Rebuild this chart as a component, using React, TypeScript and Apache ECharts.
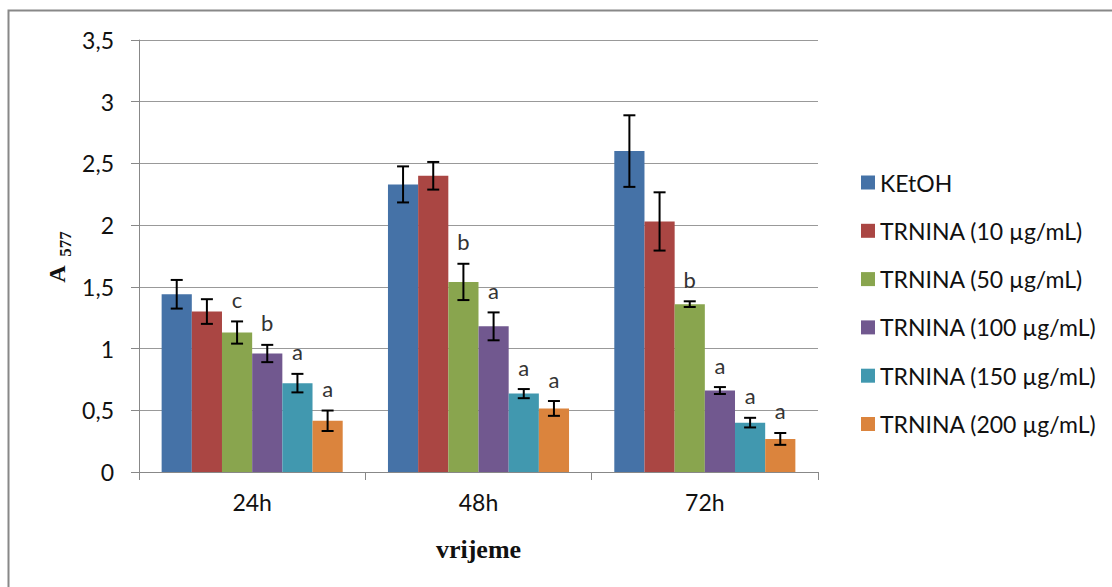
import React, { useEffect, useRef } from "react";
import * as echarts from "echarts";

const categories = ["24h", "48h", "72h"];
const seriesNames = [
  "KEtOH",
  "TRNINA (10 µg/mL)",
  "TRNINA (50 µg/mL)",
  "TRNINA (100 µg/mL)",
  "TRNINA (150 µg/mL)",
  "TRNINA (200 µg/mL)",
];
const colors = ["#4572A7", "#AA4643", "#89A54E", "#71588F", "#4198AF", "#DB843D"];

const kEtOH = [1.44, 2.33, 2.6];
const trnina10 = [1.3, 2.4, 2.03];
const trnina50 = [1.13, 1.54, 1.36];
const trnina100 = [0.96, 1.18, 0.66];
const trnina150 = [0.72, 0.635, 0.4];
const trnina200 = [0.415, 0.515, 0.268];

const errKEtOH = [0.116, 0.146, 0.29];
const err10 = [0.1, 0.112, 0.236];
const err50 = [0.09, 0.147, 0.023];
const err100 = [0.07, 0.113, 0.028];
const err150 = [0.075, 0.037, 0.039];
const err200 = [0.083, 0.06, 0.048];

const lettersKEtOH = ["", "", ""];
const letters10 = ["", "", ""];
const letters50 = ["c", "b", "b"];
const letters100 = ["b", "a", "a"];
const letters150 = ["a", "a", "a"];
const letters200 = ["a", "a", "a"];

const yTicks = ["0", "0,5", "1", "1,5", "2", "2,5", "3", "3,5"];

const values = [kEtOH, trnina10, trnina50, trnina100, trnina150, trnina200];
const errors = [errKEtOH, err10, err50, err100, err150, err200];
const letters = [lettersKEtOH, letters10, letters50, letters100, letters150, letters200];

const FONT = "Lato";

export default function App() {
  const ref = useRef<HTMLDivElement>(null);
  useEffect(() => {
    if (!ref.current) return;
    const chart = echarts.init(ref.current, null, { renderer: "svg" });
    const n = seriesNames.length;
    const barSeries = seriesNames.map((name, i) => ({
      name,
      type: "bar",
      data: values[i],
      barGap: "0%",
      barCategoryGap: "20%",
      itemStyle: { color: colors[i] },
      z: 2,
    }));
    const errSeries = seriesNames.map((name, i) => ({
      name: "err_" + i,
      type: "custom",
      z: 5,
      data: values[i].map((v, k) => [k, v, errors[i][k]]),
      renderItem: (params: any, api: any) => {
        const cat = api.value(0);
        const v = api.value(1);
        const e = api.value(2);
        const bandW = api.size([1, 0])[0];
        const barW = (bandW * 0.8) / n;
        const cx = api.coord([cat, 0])[0] + (i - (n - 1) / 2) * barW;
        const yTop = api.coord([cat, v + e])[1];
        const yBot = api.coord([cat, v - e])[1];
        const cap = 6;
        const st = { stroke: "#000", lineWidth: 2 };
        const children: any[] = [
          { type: "line", shape: { x1: cx, y1: yTop, x2: cx, y2: yBot }, style: st },
          { type: "line", shape: { x1: cx - cap, y1: yTop, x2: cx + cap, y2: yTop }, style: st },
          { type: "line", shape: { x1: cx - cap, y1: yBot, x2: cx + cap, y2: yBot }, style: st },
        ];
        const letter = letters[i][params.dataIndex];
        if (letter) {
          children.push({
            type: "text",
            x: cx,
            y: yTop - 22,
            style: {
              text: letter,
              fill: "#333",
              font: `22px ${FONT}`,
              align: "center",
              verticalAlign: "middle",
            },
          });
        }
        return { type: "group", children };
      },
    }));

    chart.setOption({
      animation: false,
      grid: { left: 139, right: 294, top: 40, bottom: 115, containLabel: false },
      legend: {
        data: seriesNames,
        orient: "vertical",
        left: 856,
        top: 166,
        icon: "rect",
        itemWidth: 14,
        itemHeight: 14,
        itemGap: 25.3,
        selectedMode: false,
        textStyle: { fontFamily: FONT, fontSize: 23, color: "#111", lineHeight: 22 },
      },
      xAxis: {
        type: "category",
        data: categories,
        axisLine: { lineStyle: { color: "#888", width: 1 } },
        axisTick: { show: true, length: 8, alignWithLabel: false, lineStyle: { color: "#888" } },
        axisLabel: { fontFamily: FONT, fontSize: 23, color: "#111", margin: 18 },
        name: "vrijeme",
        nameLocation: "middle",
        nameGap: 64,
        nameTextStyle: { fontFamily: "Liberation Serif", fontWeight: "bold", fontSize: 26, color: "#111" },
      },
      yAxis: {
        type: "value",
        min: 0,
        max: 3.5,
        interval: 0.5,
        axisLine: { show: true, lineStyle: { color: "#888" } },
        axisTick: { show: true, length: 8, inside: false, lineStyle: { color: "#888" } },
        splitLine: { lineStyle: { color: "#999", width: 1 } },
        axisLabel: {
          fontFamily: FONT,
          fontSize: 23,
          color: "#111",
          margin: 25,
          formatter: (val: number) => yTicks[Math.round(val / 0.5)] ?? String(val),
        },
      },
      graphic: [
        {
          type: "rect",
          shape: { x: 8.5, y: 10.5, width: 1130, height: 620 },
          style: { fill: "none", stroke: "#888", lineWidth: 2 },
          silent: true,
        },
        {
          type: "text",
          x: 57,
          y: 274,
          rotation: Math.PI / 2,
          style: {
            text: "A",
            font: "bold 24px 'Liberation Serif'",
            fill: "#111",
            align: "center",
            verticalAlign: "middle",
          },
        },
        {
          type: "text",
          x: 65,
          y: 244,
          rotation: Math.PI / 2,
          style: {
            text: "577",
            font: "bold 17px 'Liberation Serif'",
            fill: "#111",
            align: "center",
            verticalAlign: "middle",
          },
        },
      ],
      series: [...barSeries, ...errSeries],
    });
    return () => chart.dispose();
  }, []);
  return (
    <div
      ref={ref}
      style={{ position: "absolute", left: 0, top: 0, width: 1112, height: 587, background: "#fff" }}
    />
  );
}
